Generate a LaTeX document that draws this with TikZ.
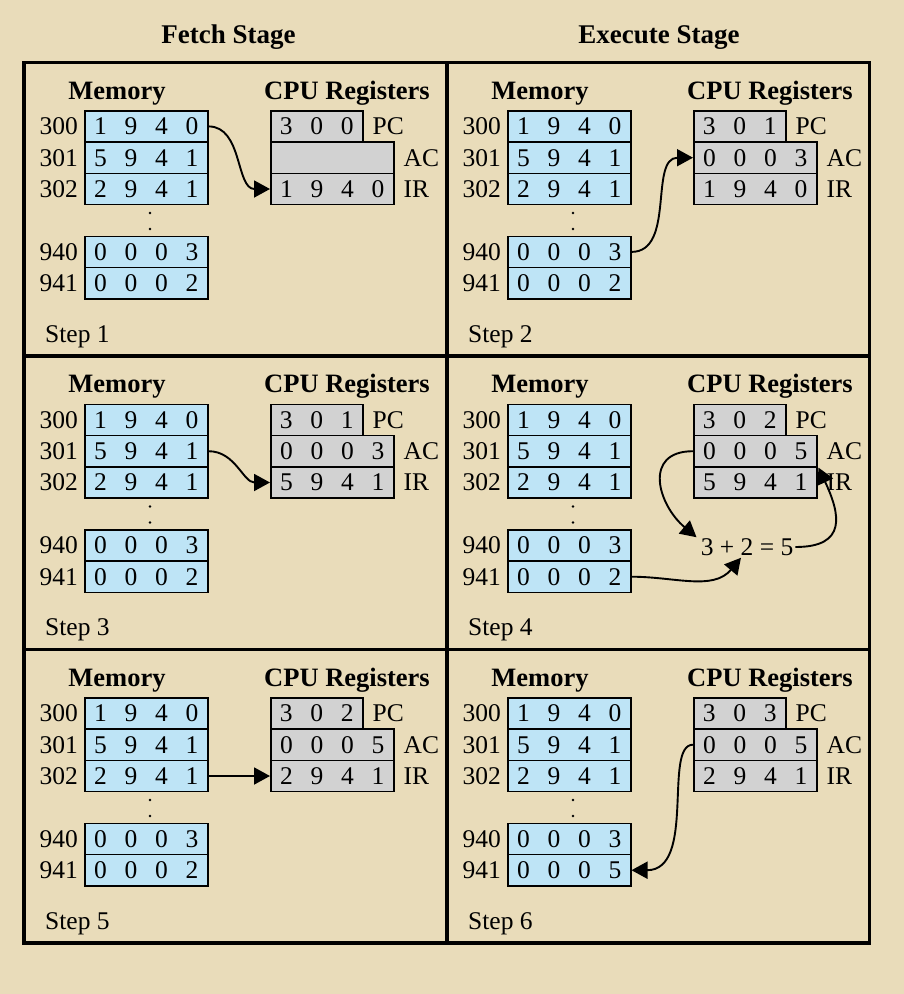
\documentclass[tikz,border=0pt]{standalone}
\usepackage{fontspec}
\setmainfont{Liberation Serif}
\usetikzlibrary{arrows.meta}
\definecolor{bgparch}{HTML}{E9DCBA}
\definecolor{memblue}{HTML}{BEE4F6}
\definecolor{reggray}{HTML}{D2D2D2}
\newcommand\dg[1]{\makebox[30.5pt]{#1}}
\newcommand\fourd[4]{\dg{#1}\dg{#2}\dg{#3}\dg{#4}}
\tikzset{
  txt/.style={inner sep=0pt, font=\fontsize{25.5}{28}\selectfont},
  hdr/.style={inner sep=0pt, font=\fontsize{26.5}{30}\selectfont\bfseries},
  stagehdr/.style={inner sep=0pt, font=\fontsize{27}{30}\selectfont\bfseries},
  cellbase/.style={draw, line width=1.5pt, minimum height=31.3pt, inner sep=0pt,
    anchor=north west, font=\fontsize{25.5}{28}\selectfont},
  memcell/.style={cellbase, fill=memblue, minimum width=123pt},
  regcell/.style={cellbase, fill=reggray, minimum width=123pt},
  arr/.style={line width=1.9pt, -{Triangle[length=16pt,width=17pt]}},
  frameline/.style={line width=3.5pt},
}
\newcommand\mypanel[8]{%
\begin{scope}[shift={(#1,#2)}]
  \node[hdr, anchor=base] (#3tm) at (117,99) {Memory};
  \node[hdr, anchor=base] (#3tc) at (347,99) {CPU Registers};
  \node[memcell] (#3m300) at (84,110) {\fourd1940};
  \node[memcell] (#3m301) at (84,141.3) {\fourd5941};
  \node[memcell] (#3m302) at (84,172.6) {\fourd2941};
  \node[memcell] (#3m940) at (84,235.5) {\fourd0003};
  \node[memcell] (#3m941) at (84,266.8) {#7};
  \fill (150,213) circle (1.3pt);
  \fill (150,229) circle (1.3pt);
  \node[txt, anchor=east] (#3a300) at ([xshift=-6pt]#3m300.west) {300};
  \node[txt, anchor=east] (#3a301) at ([xshift=-6pt]#3m301.west) {301};
  \node[txt, anchor=east] (#3a302) at ([xshift=-6pt]#3m302.west) {302};
  \node[txt, anchor=east] (#3a940) at ([xshift=-6pt]#3m940.west) {940};
  \node[txt, anchor=east] (#3a941) at ([xshift=-6pt]#3m941.west) {941};
  \node[regcell, minimum width=92pt] (#3pc) at (270,110) {#4};
  \node[regcell] (#3ac) at (270,141.3) {#5};
  \node[regcell] (#3ir) at (270,172.6) {#6};
  \node[txt, anchor=west] (#3lpc) at ([xshift=9pt]#3pc.east) {PC};
  \node[txt, anchor=west] (#3lac) at ([xshift=9pt]#3ac.east) {AC};
  \node[txt, anchor=west] (#3lir) at ([xshift=9pt]#3ir.east) {IR};
  \node[txt, anchor=base west] (#3step) at (45,342) {Step #8};
\end{scope}}
\begin{document}
\begin{tikzpicture}[x=1pt,y=-1pt]
  \useasboundingbox (0,0) rectangle (904,994);
  \fill[bgparch] (0,0) rectangle (904,994);
  \node[stagehdr, anchor=base] (fetch) at (228.5,43) {Fetch Stage};
  \node[stagehdr, anchor=base] (execute) at (659,43) {Execute Stage};

  \mypanel{0}{0}{A}{\dg3\dg0\dg0}{}{\fourd1940}{\fourd0002}{1}
  \mypanel{423}{0}{B}{\dg3\dg0\dg1}{\fourd0003}{\fourd1940}{\fourd0002}{2}
  \mypanel{0}{293.5}{C}{\dg3\dg0\dg1}{\fourd0003}{\fourd5941}{\fourd0002}{3}
  \mypanel{423}{293.5}{D}{\dg3\dg0\dg2}{\fourd0005}{\fourd5941}{\fourd0002}{4}
  \mypanel{0}{587}{E}{\dg3\dg0\dg2}{\fourd0005}{\fourd2941}{\fourd0002}{5}
  \mypanel{423}{587}{F}{\dg3\dg0\dg3}{\fourd0005}{\fourd2941}{\fourd0005}{6}

  \draw[frameline] (24,62.5) rectangle (869.5,943);
  \draw[frameline] (447,62.5) -- (447,943);
  \draw[frameline] (24,356) -- (869.5,356);
  \draw[frameline] (24,649.5) -- (869.5,649.5);

  % arrows
  \draw[arr] (Am300.east) to[out=0,in=180] (Air.west);
  \draw[arr] (Bm940.east) to[out=0,in=180] (Bac.west);
  \draw[arr] (Cm301.east) to[out=0,in=180] (Cir.west);
  \node[txt] (sum) at (747,547) {3 + 2 = 5};
  \draw[arr] (Dac.west) to[out=180,in=140,looseness=1.5] ([xshift=-4pt,yshift=1pt]sum.north west);
  \draw[arr] ([xshift=2pt]sum.east) to[out=0,in=-65,looseness=1.6] ([xshift=1pt]Dac.south east);
  \draw[arr] (Dm941.east) to[out=0,in=-130] ([xshift=-6pt,yshift=-2pt]sum.south);
  \draw[arr] (Em302.east) -- (Eir.west);
  \draw[arr] (Fac.west) to[out=180,in=0,out distance=30pt,in distance=65pt] (Fm941.east);
\end{tikzpicture}
\end{document}
